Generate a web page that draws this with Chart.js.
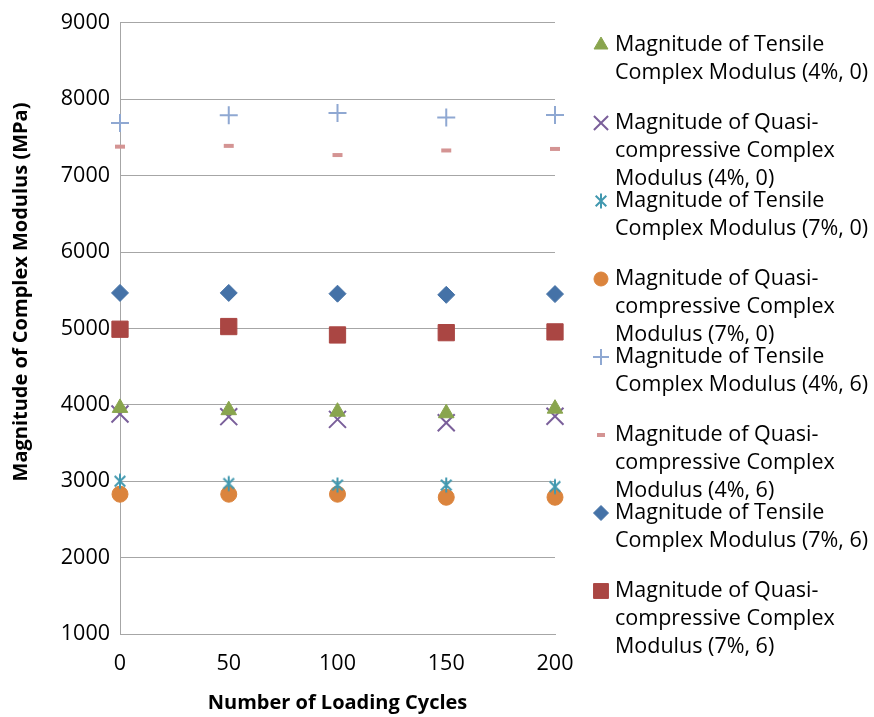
<!DOCTYPE html>
<html>
<head>
<meta charset="utf-8">
<script src="https://cdn.jsdelivr.net/npm/chart.js@4.4.0/dist/chart.umd.min.js"></script>
<style>
  html, body { margin: 0; padding: 0; background: #fff; }
  #wrap { position: relative; width: 874px; height: 717px; }
</style>
</head>
<body>
<div id="wrap"><canvas id="modulusChart" width="874" height="717"></canvas></div>
<script>
// loading cycles on the x axis
const cycles = [0, 50, 100, 150, 200];

// magnitude of complex modulus, MPa
const tensile4_0 = [3960, 3930, 3910, 3890, 3950];
const quasi4_0 = [3880, 3845, 3810, 3765, 3850];
const tensile7_0 = [3000, 2970, 2950, 2950, 2930];
const quasi7_0 = [2830, 2830, 2830, 2790, 2790];
const tensile4_6 = [7690, 7790, 7820, 7760, 7795];
const quasi4_6 = [7380, 7390, 7270, 7330, 7350];
const tensile7_6 = [5465, 5465, 5455, 5440, 5450];
const quasi7_6 = [4990, 5025, 4915, 4945, 4955];

const seriesNames = [
  ['Magnitude of Tensile', 'Complex Modulus (4%, 0)'],
  ['Magnitude of Quasi-', 'compressive Complex', 'Modulus (4%, 0)'],
  ['Magnitude of Tensile', 'Complex Modulus (7%, 0)'],
  ['Magnitude of Quasi-', 'compressive Complex', 'Modulus (7%, 0)'],
  ['Magnitude of Tensile', 'Complex Modulus (4%, 6)'],
  ['Magnitude of Quasi-', 'compressive Complex', 'Modulus (4%, 6)'],
  ['Magnitude of Tensile', 'Complex Modulus (7%, 6)'],
  ['Magnitude of Quasi-', 'compressive Complex', 'Modulus (7%, 6)']
];

const yTitle = 'Magnitude of Complex Modulus (MPa)';
const xTitle = 'Number of Loading Cycles';
const yTicks = { min: 1000, max: 9000, step: 1000 };
const xTicks = { min: 0, max: 200, step: 50 };

const FONT = "'Open Sans', sans-serif";

// six-armed asterisk marker
function asterisk(color, size) {
  const c = document.createElement('canvas');
  c.width = size; c.height = size;
  const g = c.getContext('2d');
  const h = size / 2, r = size / 2 - 1.5;
  g.strokeStyle = color;
  g.lineWidth = 2;
  g.beginPath();
  g.moveTo(h, h - r); g.lineTo(h, h + r);
  const d = r * Math.SQRT1_2;
  g.moveTo(h - d, h - d); g.lineTo(h + d, h + d);
  g.moveTo(h + d, h - d); g.lineTo(h - d, h + d);
  g.stroke();
  return c;
}

function pts(values) {
  return values.map((v, i) => ({ x: cycles[i], y: v }));
}

const seriesValues = [tensile4_0, quasi4_0, tensile7_0, quasi7_0, tensile4_6, quasi4_6, tensile7_6, quasi7_6];
const styles = [
  { pointStyle: 'triangle', radius: 9, color: '#89A54E', bw: 1 },
  { pointStyle: 'crossRot', radius: 12, color: '#7A5F9A', bw: 2 },
  { pointStyle: asterisk('#4198AF', 18), radius: 9, color: '#4198AF', bw: 0 },
  { pointStyle: 'circle', radius: 8, color: '#DB843D', bw: 1 },
  { pointStyle: 'cross', radius: 9, color: '#8FA8D2', bw: 2 },
  { pointStyle: 'line', radius: 5, color: '#D49493', bw: 4 },
  { pointStyle: 'rectRot', radius: 8.5, color: '#4572A7', bw: 1 },
  { pointStyle: 'rect', radius: 11.5, color: '#AA4643', bw: 1 }
];

const datasets = seriesValues.map((vals, i) => ({
  label: seriesNames[i].join(' '),
  data: pts(vals),
  pointStyle: styles[i].pointStyle,
  pointRadius: styles[i].radius,
  pointHoverRadius: styles[i].radius,
  pointBackgroundColor: styles[i].color,
  pointBorderColor: styles[i].color,
  pointBorderWidth: styles[i].bw,
  showLine: false,
  clip: false
}));

// legend on the right (marker plus wrapped text) and the rotated y title
const sideLegend = {
  id: 'sideLegend',
  afterDraw(chart) {
    const ctx = chart.ctx;
    ctx.save();
    ctx.font = '21.5px ' + FONT;
    ctx.textBaseline = 'middle';
    ctx.textAlign = 'left';
    const top = 45, slot = 78, lh = 28;
    seriesNames.forEach((lines, i) => {
      const y = top + i * slot;
      const st = styles[i];
      ctx.fillStyle = st.color;
      ctx.strokeStyle = st.color;
      ctx.lineWidth = st.bw;
      const r = st.pointStyle === 'crossRot' ? 10 : (st.pointStyle === 'cross' ? 8 : st.radius - 1);
      Chart.helpers.drawPoint(ctx, { pointStyle: st.pointStyle, radius: r, borderWidth: st.bw, rotation: 0 }, 601, y);
      ctx.fillStyle = '#000';
      lines.forEach((t, j) => ctx.fillText(t, 615, y + j * lh));
    });

    ctx.translate(21, 292);
    ctx.rotate(-Math.PI / 2);
    ctx.font = 'bold 20px ' + FONT;
    ctx.textAlign = 'center';
    ctx.fillStyle = '#000';
    ctx.fillText(yTitle, 0, 0);
    ctx.restore();
  }
};

new Chart(document.getElementById('modulusChart'), {
  type: 'scatter',
  data: { datasets },
  plugins: [sideLegend],
  options: {
    responsive: false,
    animation: false,
    layout: { padding: { top: 18, right: 319, left: 0, bottom: 0 } },
    plugins: { legend: { display: false }, tooltip: { enabled: false } },
    scales: {
      x: {
        type: 'linear',
        min: xTicks.min, max: xTicks.max,
        afterFit(s) { s.height = 83; },
        ticks: {
          stepSize: xTicks.step, color: '#000', padding: 17,
          font: { family: FONT, size: 21.5 },
          callback: v => String(v)
        },
        grid: { display: false, drawTicks: false },
        border: { display: true, color: '#A6A6A6', width: 1 },
        title: {
          display: true, text: xTitle, color: '#000',
          font: { family: FONT, size: 20, weight: 'bold' }, padding: { top: 0, bottom: 2 }
        }
      },
      y: {
        type: 'linear',
        min: yTicks.min, max: yTicks.max,
        afterFit(s) { s.width = 120; },
        ticks: {
          stepSize: yTicks.step, color: '#000', padding: 10,
          font: { family: FONT, size: 21.5 },
          callback: v => String(v)
        },
        grid: { color: '#A6A6A6', lineWidth: 1, drawTicks: false },
        border: { display: true, color: '#A6A6A6', width: 1 }
      }
    }
  }
});
</script>
</body>
</html>
